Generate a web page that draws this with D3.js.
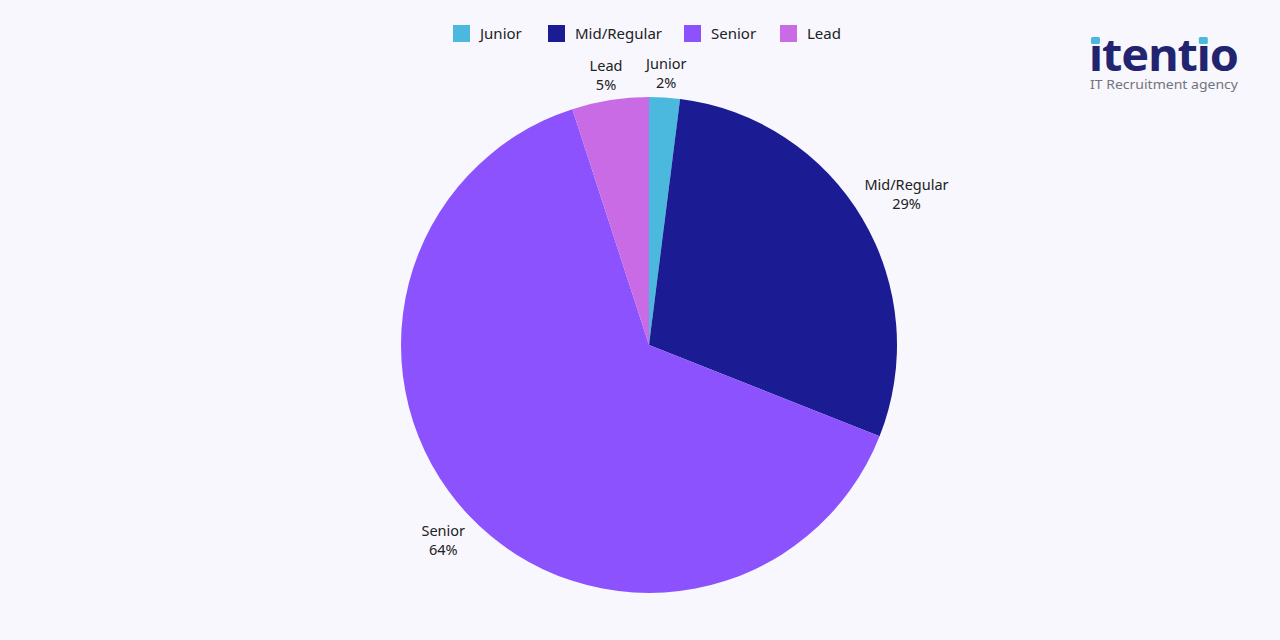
<!DOCTYPE html>
<html><head><meta charset="utf-8">
<script src="https://cdn.jsdelivr.net/npm/d3@7"></script>
<style>html,body{margin:0;padding:0;background:#f7f7fd;}svg{display:block;font-family:"Noto Sans","Open Sans",sans-serif;}</style>
</head><body><svg id="c" width="1280" height="640"></svg>
<script>
const categories = ["Junior", "Mid/Regular", "Senior", "Lead"];
const values = [2, 29, 64, 5];
const colors = ["#4bb9dd", "#1b1c94", "#8b52fe", "#c86be4"];

const svg = d3.select("#c");
svg.append("rect").attr("width",1280).attr("height",640).attr("fill","#f7f7fd");
const cx = 649, cy = 345, r = 248;
const data = categories.map((c,i)=>({cat:c, v:values[i], col:colors[i]}));
const pie = d3.pie().value(d=>d.v).sort(null);
const arc = d3.arc().innerRadius(0).outerRadius(r);
const arcs = pie(data);
const g = svg.append("g").attr("transform",`translate(${cx},${cy})`);
g.selectAll("path").data(arcs).join("path").attr("d",arc).attr("fill",d=>d.data.col);

// labels
arcs.forEach(a=>{
  const ang = (a.startAngle+a.endAngle)/2;
  const s = Math.sin(ang), c = -Math.cos(ang);
  const t = g.append("text").attr("text-anchor","middle").attr("font-size",14.5).attr("fill","#222");
  t.append("tspan").attr("x",0).attr("dy",0).text(a.data.cat);
  t.append("tspan").attr("x",0).attr("dy",19).text(a.data.v+"%");
  const bb = t.node().getBBox();
  const hw = bb.width/2, hh = bb.height/2;
  const dist = 253 + Math.abs(hw*s) + Math.abs(hh*c);
  const px = dist*s, py = dist*c;
  const bcy = bb.y + bb.height/2;
  t.attr("transform",`translate(${px},${py-bcy+1})`);
});

// legend
const legendX = [453, 548, 684, 780];
const lg = svg.append("g");
data.forEach((d,i)=>{
  lg.append("rect").attr("x",legendX[i]).attr("y",25).attr("width",17).attr("height",17).attr("fill",d.col);
  lg.append("text").attr("x",legendX[i]+27).attr("y",39).attr("font-size",15).attr("fill","#222").text(d.cat);
});

// logo
const logo = svg.append("text").attr("x",1089).attr("y",71).attr("font-size",45).attr("font-weight","bold")
  .attr("fill","#23246f").attr("letter-spacing",-1).text("\u0131tent\u0131o");
const ln = logo.node();
logo.attr("textLength", 149).attr("lengthAdjust","spacingAndGlyphs");
[0,5].forEach(idx=>{
  const e = ln.getExtentOfChar(idx);
  svg.append("rect").attr("x", e.x + e.width/2 - 4.5).attr("y", 37).attr("width",9).attr("height",7).attr("rx",1.5).attr("fill","#4bb9dd");
});
svg.append("text").attr("x",1090).attr("y",89).attr("font-size",13).attr("fill","#74747c")
  .attr("textLength",148).attr("lengthAdjust","spacingAndGlyphs").text("IT Recruitment agency");
</script></body></html>
